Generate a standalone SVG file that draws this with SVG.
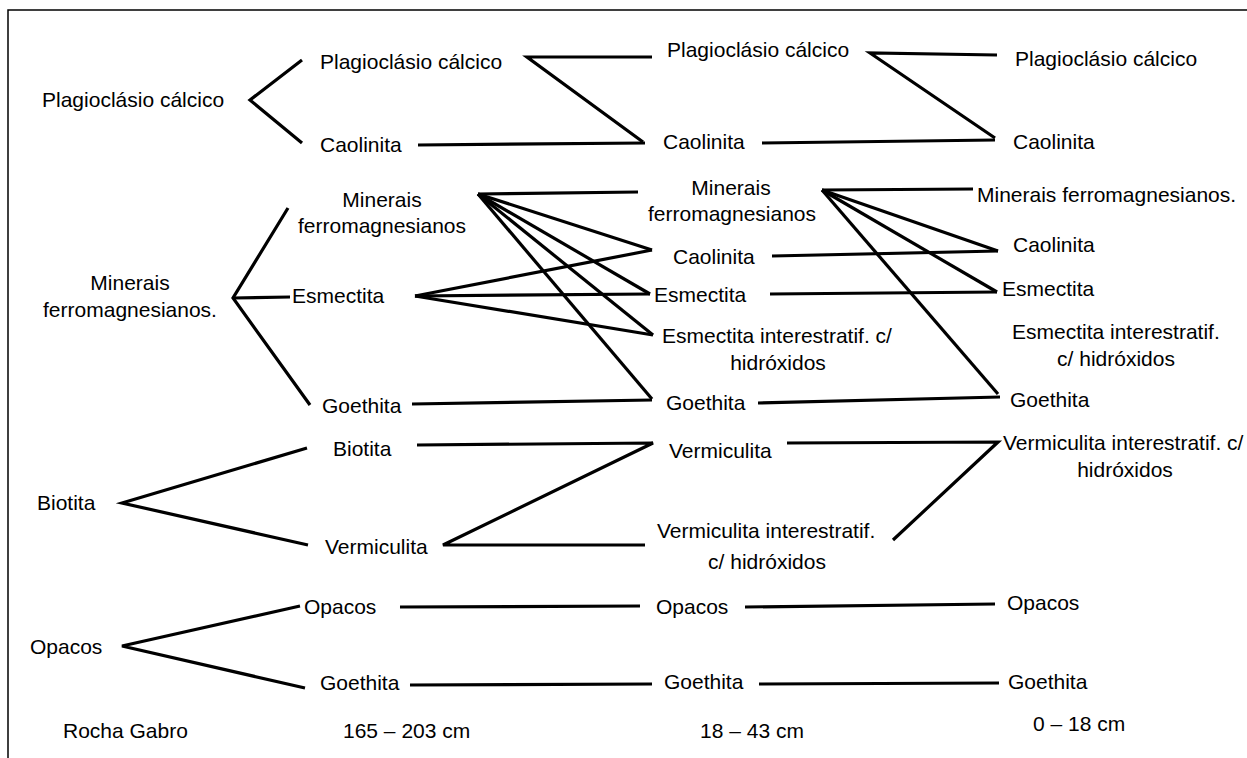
<svg xmlns="http://www.w3.org/2000/svg" width="1247" height="758" viewBox="0 0 1247 758">
<style>
text{font-family:"Liberation Sans",Arial,sans-serif;font-size:21px;fill:#000}
.m{text-anchor:middle}
.c{fill:none;stroke:#000;stroke-width:3.2;stroke-linejoin:miter;stroke-linecap:butt}
</style>
<rect width="1247" height="758" fill="#fff"/>
<path d="M8,758 V10 H1247" fill="none" stroke="#000" stroke-width="1.5"/>
<g id="connectors" class="c">
<polyline points="302,60 250,100 302,143"/>
<polyline points="288,208 233,298 310,405"/>
<line x1="233" y1="298" x2="290" y2="297"/>
<polyline points="307,448 122,503 308,545"/>
<polyline points="300,606 122,646 305,688"/>
<polyline points="652,57 527,57 643,142"/>
<line x1="418" y1="145" x2="645" y2="143"/>
<line x1="478" y1="194" x2="638" y2="192"/>
<line x1="478" y1="194" x2="652" y2="250"/>
<line x1="478" y1="194" x2="650" y2="294"/>
<line x1="478" y1="194" x2="653" y2="335"/>
<line x1="478" y1="194" x2="652" y2="399"/>
<line x1="415" y1="296" x2="652" y2="250"/>
<line x1="415" y1="296" x2="650" y2="294"/>
<line x1="415" y1="296" x2="653" y2="335"/>
<line x1="412" y1="404" x2="652" y2="400"/>
<polyline points="417,445 653,443 443,545 645,545"/>
<line x1="400" y1="607" x2="640" y2="606"/>
<line x1="410" y1="685" x2="652" y2="684"/>
<polyline points="997,55 870,53 995,138"/>
<line x1="762" y1="143" x2="995" y2="140"/>
<line x1="822" y1="190" x2="973" y2="189"/>
<line x1="822" y1="190" x2="998" y2="251"/>
<line x1="822" y1="190" x2="997" y2="292"/>
<line x1="822" y1="190" x2="998" y2="394"/>
<line x1="772" y1="256" x2="998" y2="251"/>
<line x1="770" y1="294" x2="997" y2="292"/>
<line x1="758" y1="403" x2="1000" y2="397"/>
<polyline points="787,443 998,442 893,540"/>
<line x1="745" y1="607" x2="995" y2="604"/>
<line x1="759" y1="684" x2="999" y2="683"/>
</g>
<g id="c1-plag"><text x="42" y="107">Plagioclásio cálcico</text></g>
<g id="c1-minerais"><text class="m" x="130" y="290">Minerais</text><text class="m" x="130" y="317">ferromagnesianos.</text></g>
<g id="c1-biotita"><text x="37" y="510">Biotita</text></g>
<g id="c1-opacos"><text x="30" y="654">Opacos</text></g>
<g id="c1-label"><text x="63" y="738">Rocha Gabro</text></g>

<g id="c2-plag"><text x="320" y="69">Plagioclásio cálcico</text></g>
<g id="c2-caol"><text x="320" y="152">Caolinita</text></g>
<g id="c2-minerais"><text class="m" x="382" y="207">Minerais</text><text class="m" x="382" y="233">ferromagnesianos</text></g>
<g id="c2-esm"><text x="292" y="303">Esmectita</text></g>
<g id="c2-goe"><text x="322" y="413">Goethita</text></g>
<g id="c2-bio"><text x="333" y="456">Biotita</text></g>
<g id="c2-verm"><text x="325" y="554">Vermiculita</text></g>
<g id="c2-opa"><text x="304" y="614">Opacos</text></g>
<g id="c2-goe2"><text x="320" y="690">Goethita</text></g>
<g id="c2-label"><text x="343" y="738">165 – 203 cm</text></g>

<g id="c3-plag"><text x="667" y="57">Plagioclásio cálcico</text></g>
<g id="c3-caol"><text x="663" y="149">Caolinita</text></g>
<g id="c3-minerais"><text class="m" x="731" y="195">Minerais</text><text class="m" x="732" y="221">ferromagnesianos</text></g>
<g id="c3-caol2"><text x="673" y="264">Caolinita</text></g>
<g id="c3-esm"><text x="654" y="302">Esmectita</text></g>
<g id="c3-esmint"><text x="662" y="343">Esmectita interestratif. c/</text><text class="m" x="778" y="370">hidróxidos</text></g>
<g id="c3-goe"><text x="666" y="410">Goethita</text></g>
<g id="c3-verm"><text x="669" y="458">Vermiculita</text></g>
<g id="c3-vermint"><text x="657" y="538">Vermiculita interestratif.</text><text class="m" x="767" y="569">c/ hidróxidos</text></g>
<g id="c3-opa"><text x="656" y="614">Opacos</text></g>
<g id="c3-goe2"><text x="664" y="689">Goethita</text></g>
<g id="c3-label"><text x="700" y="738">18 – 43 cm</text></g>

<g id="c4-plag"><text x="1015" y="66">Plagioclásio cálcico</text></g>
<g id="c4-caol"><text x="1013" y="149">Caolinita</text></g>
<g id="c4-minerais"><text x="977" y="202">Minerais ferromagnesianos.</text></g>
<g id="c4-caol2"><text x="1013" y="252">Caolinita</text></g>
<g id="c4-esm"><text x="1002" y="296">Esmectita</text></g>
<g id="c4-esmint"><text x="1012" y="339">Esmectita interestratif.</text><text class="m" x="1116" y="366">c/ hidróxidos</text></g>
<g id="c4-goe"><text x="1010" y="407">Goethita</text></g>
<g id="c4-vermint"><text x="1003" y="450">Vermiculita interestratif. c/</text><text class="m" x="1125" y="477">hidróxidos</text></g>
<g id="c4-opa"><text x="1007" y="610">Opacos</text></g>
<g id="c4-goe2"><text x="1008" y="689">Goethita</text></g>
<g id="c4-label"><text x="1033" y="731">0 – 18 cm</text></g>
</svg>
